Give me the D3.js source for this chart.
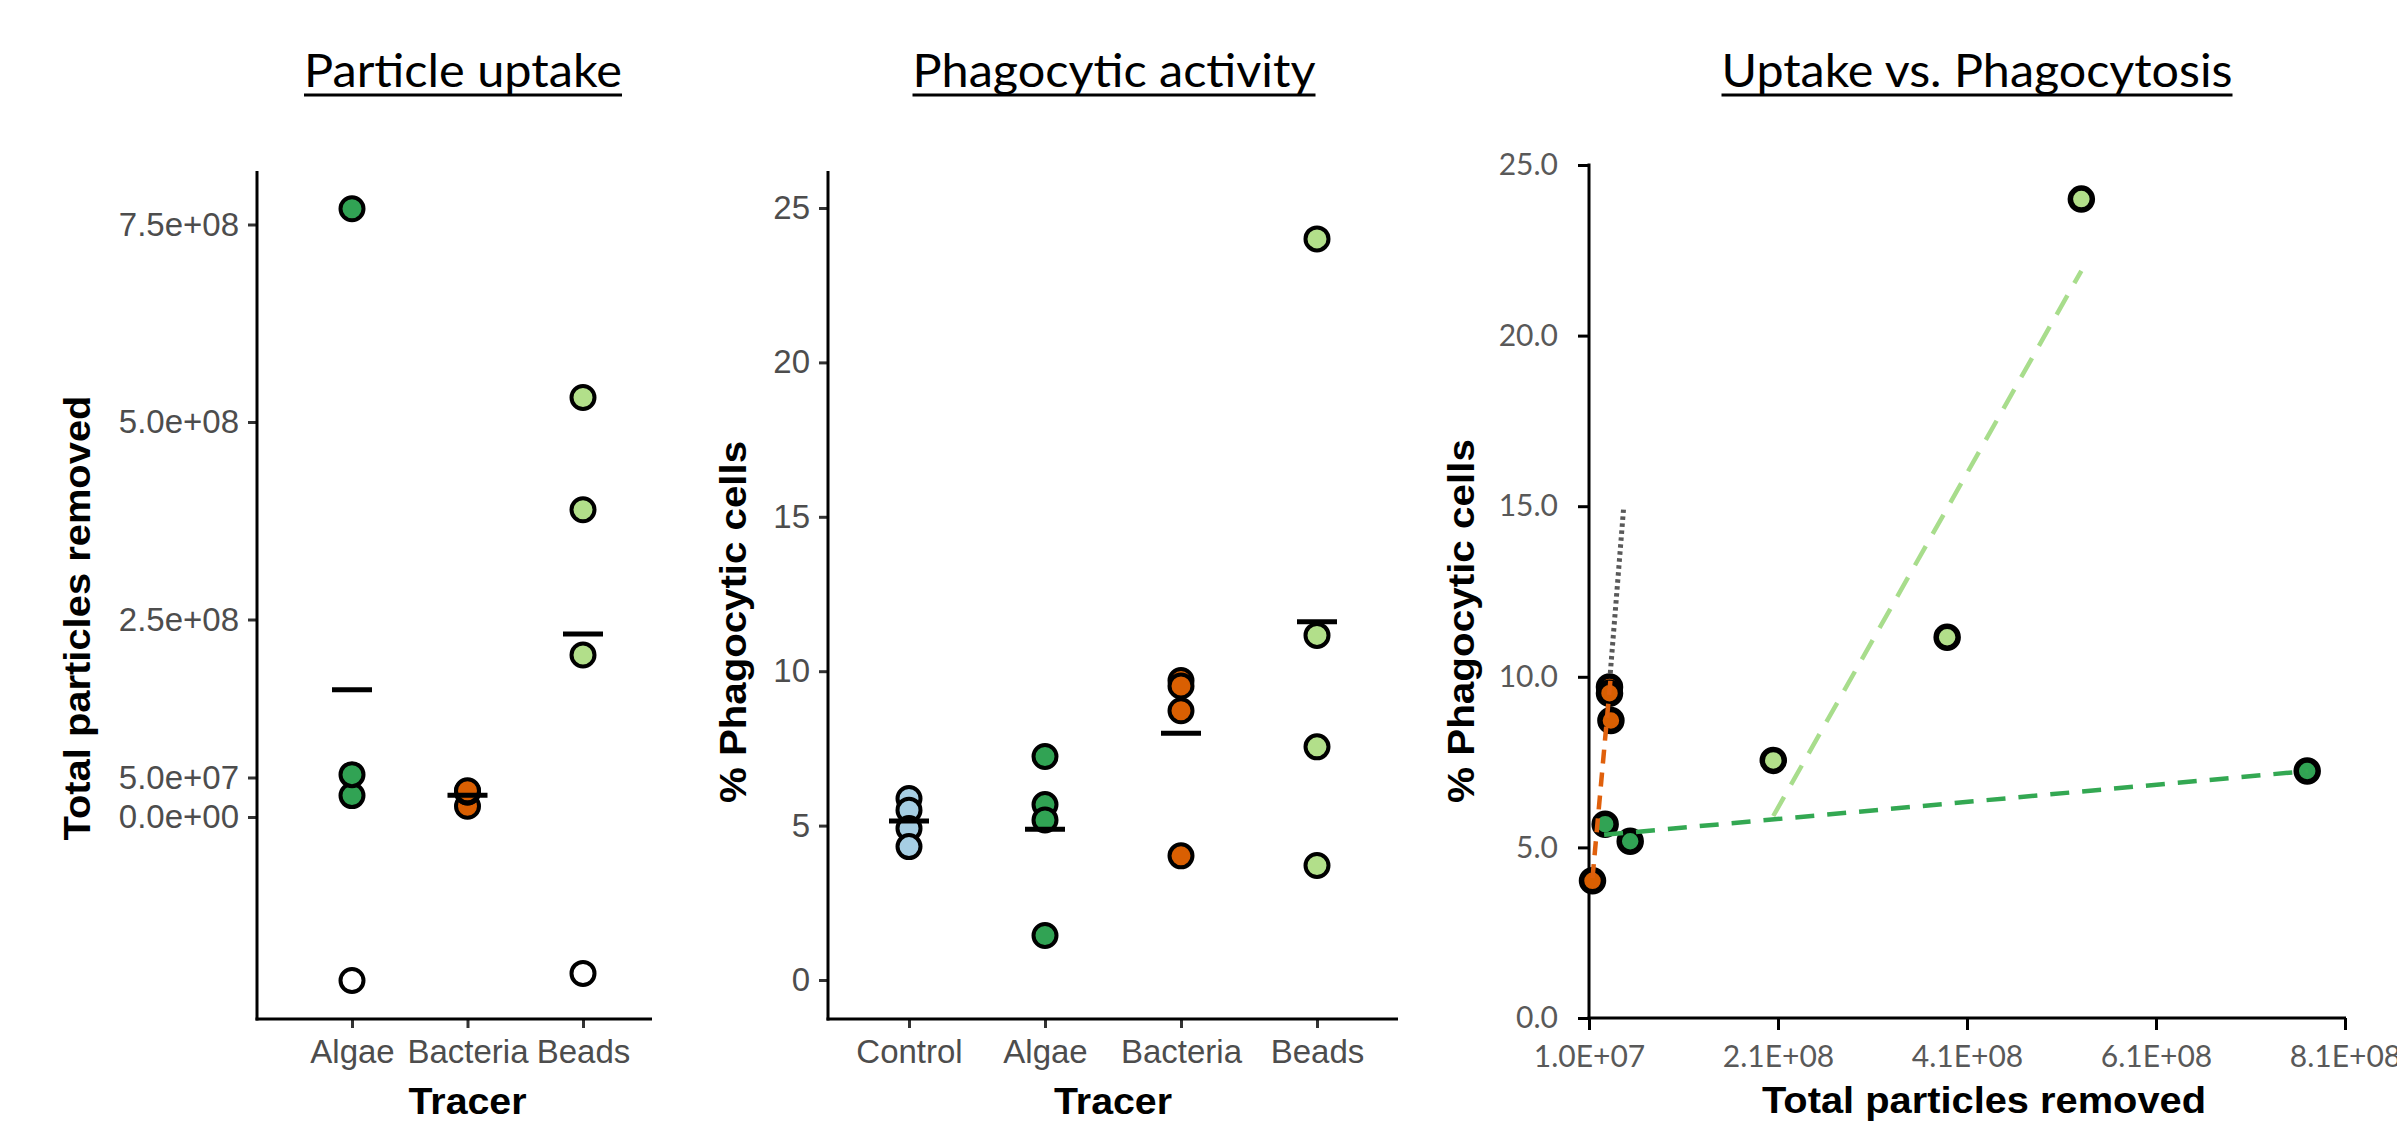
<!doctype html>
<html lang="en">
<head>
<meta charset="utf-8">
<title>Particle uptake and phagocytosis</title>
<script src="https://cdn.jsdelivr.net/npm/d3@7"></script>
<style>
  body { margin: 0; background: #fff; }
  .gg text { font-family: "Liberation Sans", Arial, sans-serif; }
  .xl text { font-family: Lato, "Open Sans", sans-serif; }
</style>
</head>
<body>
<div id="chart"></div>
<script>
// ---- data ----
var tracersUptake = ["Algae", "Bacteria", "Beads"];
var tracersPhago = ["Control", "Algae", "Bacteria", "Beads"];

var controlPhago = [5.88, 5.50, 4.91, 4.32];
var algaeUptake = [7.70e8, 2.71e7, 5.36e7, -2.07e8];
var algaePhago = [7.24, 5.68, 5.18, 1.44];
var bacteriaUptake = [1.37e7, 3.17e7, 3.17e7, 3.32e7];
var bacteriaPhago = [4.02, 9.70, 9.52, 8.72];
var beadsUptake = [5.31e8, 3.89e8, 2.05e8, -1.98e8];
var beadsPhago = [24.0, 11.16, 7.55, 3.71];

// trend lines in the scatter panel: [x, y] end points
var trendAlgae = [[2.6e7, 5.37], [7.71e8, 7.24]];
var trendBeads = [[2.05e8, 5.92], [5.31e8, 21.9]];
var trendBacteria = [[1.37e7, 4.1], [3.3e7, 10.0]];
var trendDotted = [[3.25e7, 10.1], [4.65e7, 14.9]];

// tick values and labels
var uptakeTicks = [0, 5e7, 2.5e8, 5e8, 7.5e8];
var uptakeTickLabels = ["0.0e+00", "5.0e+07", "2.5e+08", "5.0e+08", "7.5e+08"];
var phagoTicks = [0, 5, 10, 15, 20, 25];
var phagoTickLabels = ["0", "5", "10", "15", "20", "25"];
var scatterXTicks = [1e7, 2.1e8, 4.1e8, 6.1e8, 8.1e8];
var scatterXTickLabels = ["1.0E+07", "2.1E+08", "4.1E+08", "6.1E+08", "8.1E+08"];
var scatterYTickLabels = ["0.0", "5.0", "10.0", "15.0", "20.0", "25.0"];

var colors = {Control: "#a6cee3", Algae: "#31a354", Bacteria: "#d95f02", Beads: "#b2df8a"};
var lineColors = {Algae: "#33a852", Bacteria: "#e0600c", Beads: "#a8dd8c"};

var uptake = {Algae: algaeUptake, Bacteria: bacteriaUptake, Beads: beadsUptake};
var phago = {Control: controlPhago, Algae: algaePhago, Bacteria: bacteriaPhago, Beads: beadsPhago};

var W = 2397, H = 1124;
var svg = d3.select("#chart").append("svg")
    .attr("width", W).attr("height", H)
    .style("display", "block");

// ---- titles (underlined) ----
function title(text, cx, len) {
  var g = svg.append("g").attr("class", "xl");
  g.append("text")
    .attr("x", cx).attr("y", 87)
    .attr("text-anchor", "middle")
    .attr("textLength", len).attr("lengthAdjust", "spacingAndGlyphs")
    .style("font-size", "46px").style("fill", "#000")
    .text(text);
  g.append("line")
    .attr("x1", cx - len / 2).attr("x2", cx + len / 2)
    .attr("y1", 95).attr("y2", 95)
    .attr("stroke", "#000").attr("stroke-width", 3);
}
title("Particle uptake", 463, 318);
title("Phagocytic activity", 1114, 403);
title("Uptake vs. Phagocytosis", 1977, 511);

// ---- helper for ggplot-like strip panels ----
function stripPanel(opts) {
  var g = svg.append("g").attr("class", "gg");
  var x = d3.scalePoint().domain(opts.cats).range(opts.xRange);
  var y = d3.scaleLinear().domain(opts.yDomain).range(opts.yRange);

  // y axis
  var ya = g.append("g")
      .attr("transform", "translate(" + opts.axisX + ",0)")
      .call(d3.axisLeft(y).tickValues(opts.yTicks)
        .tickFormat(function(d, i) { return opts.yTickLabels[i]; })
        .tickSize(9).tickPadding(9));
  // x axis
  var xa = g.append("g")
      .attr("transform", "translate(0," + opts.axisY + ")")
      .call(d3.axisBottom(x).tickSize(9).tickPadding(12));
  [ya, xa].forEach(function(a) {
    a.select(".domain").remove();
    a.selectAll(".tick line").attr("stroke", "#333").attr("stroke-width", 3);
    a.selectAll(".tick text").style("font-size", "33px").style("fill", "#4d4d4d");
  });
  xa.selectAll(".tick text").attr("dy", "0.71em");

  g.append("line")
    .attr("x1", opts.axisX).attr("x2", opts.axisX)
    .attr("y1", opts.axisTop).attr("y2", opts.axisY + 1.5)
    .attr("stroke", "#000").attr("stroke-width", 3);
  g.append("line")
    .attr("x1", opts.axisX - 1.5).attr("x2", opts.axisRight)
    .attr("y1", opts.axisY).attr("y2", opts.axisY)
    .attr("stroke", "#000").attr("stroke-width", 3);

  // points
  opts.cats.forEach(function(c) {
    var vals = opts.values[c];
    g.selectAll(null).data(vals).enter().append("circle")
      .attr("cx", x(c))
      .attr("cy", function(d) { return y(d); })
      .attr("r", 11.5)
      .attr("fill", function(d) { return d < 0 ? "#fff" : colors[c]; })
      .attr("stroke", "#000").attr("stroke-width", 4);
    var m = d3.mean(vals);
    g.append("line")
      .attr("x1", x(c) - 20).attr("x2", x(c) + 20)
      .attr("y1", y(m)).attr("y2", y(m))
      .attr("stroke", "#000").attr("stroke-width", 5);
  });

  // axis titles
  g.append("text")
    .attr("transform", "translate(" + opts.yTitleX + "," + opts.yTitleY + ") rotate(-90)")
    .attr("text-anchor", "middle")
    .attr("textLength", opts.yTitleLen).attr("lengthAdjust", "spacingAndGlyphs")
    .style("font-size", "37px").style("font-weight", "bold")
    .text(opts.yTitle);
  g.append("text")
    .attr("x", d3.mean(opts.xRange)).attr("y", 1114)
    .attr("text-anchor", "middle")
    .attr("textLength", 118).attr("lengthAdjust", "spacingAndGlyphs")
    .style("font-size", "37px").style("font-weight", "bold")
    .text("Tracer");
}

stripPanel({
  cats: tracersUptake, values: uptake,
  xRange: [352, 583],
  yDomain: [0, 7.5e8], yRange: [817, 224.5],
  yTicks: uptakeTicks, yTickLabels: uptakeTickLabels,
  axisX: 257, axisY: 1019, axisTop: 171, axisRight: 652,
  yTitle: "Total particles removed", yTitleX: 90, yTitleY: 618, yTitleLen: 445
});

stripPanel({
  cats: tracersPhago, values: phago,
  xRange: [909, 1317],
  yDomain: [0, 25], yRange: [980, 208],
  yTicks: phagoTicks, yTickLabels: phagoTickLabels,
  axisX: 828, axisY: 1019, axisTop: 171, axisRight: 1398,
  yTitle: "% Phagocytic cells", yTitleX: 746, yTitleY: 622, yTitleLen: 362
});

// ---- scatter panel (Excel style) ----
var g3 = svg.append("g");
var x3 = d3.scaleLinear().domain([1e7, 8.1e8]).range([1589, 2345]);
var y3 = d3.scaleLinear().domain([0, 25]).range([1018, 165]);

var xa3 = g3.append("g").attr("class", "xl")
    .attr("transform", "translate(0,1018)")
    .call(d3.axisBottom(x3).tickValues(scatterXTicks)
      .tickFormat(function(d, i) { return scatterXTickLabels[i]; })
      .tickSize(12).tickPadding(16));
var ya3 = g3.append("g").attr("class", "xl")
    .attr("transform", "translate(1589,0)")
    .call(d3.axisLeft(y3).tickValues(phagoTicks)
      .tickFormat(function(d, i) { return scatterYTickLabels[i]; })
      .tickSize(11).tickPadding(20));
[xa3, ya3].forEach(function(a) {
  a.select(".domain").remove();
  a.selectAll(".tick line").attr("stroke", "#000").attr("stroke-width", 3);
  a.selectAll(".tick text").style("font-size", "30px").style("fill", "#595959");
});
g3.append("line").attr("x1", 1589).attr("x2", 1589).attr("y1", 163.5).attr("y2", 1019.5)
  .attr("stroke", "#000").attr("stroke-width", 3);
g3.append("line").attr("x1", 1587.5).attr("x2", 2346).attr("y1", 1018).attr("y2", 1018)
  .attr("stroke", "#000").attr("stroke-width", 3);

var pts = [];
tracersUptake.forEach(function(c) {
  uptake[c].forEach(function(u, i) {
    if (u > 0) pts.push({tracer: c, u: u, p: phago[c][i]});
  });
});
g3.selectAll("circle").data(pts).enter().append("circle")
  .attr("cx", function(d) { return x3(d.u); })
  .attr("cy", function(d) { return y3(d.p); })
  .attr("r", 11)
  .attr("fill", function(d) { return colors[d.tracer]; })
  .attr("stroke", "#000").attr("stroke-width", 5.5);

var line3 = d3.line().x(function(d) { return x3(d[0]); }).y(function(d) { return y3(d[1]); });
g3.append("path").attr("d", line3(trendAlgae)).attr("fill", "none")
  .attr("stroke", lineColors.Algae).attr("stroke-width", 4.5).attr("stroke-dasharray", "19,13");
g3.append("path").attr("d", line3(trendBeads)).attr("fill", "none")
  .attr("stroke", lineColors.Beads).attr("stroke-width", 4.5).attr("stroke-dasharray", "22,14");
g3.append("path").attr("d", line3(trendBacteria)).attr("fill", "none")
  .attr("stroke", lineColors.Bacteria).attr("stroke-width", 4.5).attr("stroke-dasharray", "14,9");
g3.append("path").attr("d", line3(trendDotted)).attr("fill", "none")
  .attr("stroke", "#595959").attr("stroke-width", 5).attr("stroke-dasharray", "3.5,3.5");

g3.append("text")
  .attr("transform", "translate(1474,621) rotate(-90)")
  .attr("text-anchor", "middle")
  .attr("textLength", 364).attr("lengthAdjust", "spacingAndGlyphs")
  .style("font-family", "'Liberation Sans', Arial, sans-serif")
  .style("font-size", "37px").style("font-weight", "bold")
  .text("% Phagocytic cells");
g3.append("text")
  .attr("x", 1984).attr("y", 1113)
  .attr("text-anchor", "middle")
  .attr("textLength", 444).attr("lengthAdjust", "spacingAndGlyphs")
  .style("font-family", "'Liberation Sans', Arial, sans-serif")
  .style("font-size", "37px").style("font-weight", "bold")
  .text("Total particles removed");
</script>
</body>
</html>
